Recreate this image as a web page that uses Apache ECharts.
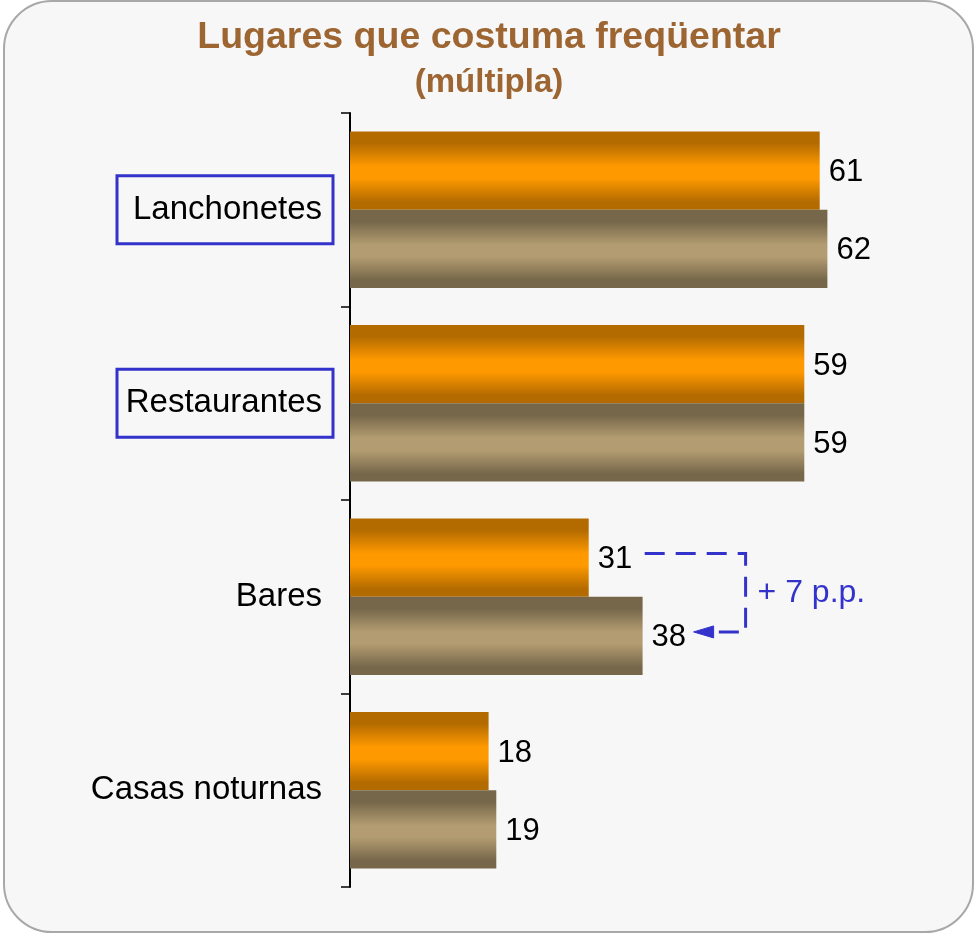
<!DOCTYPE html>
<html>
<head>
<meta charset="utf-8">
<script src="https://cdn.jsdelivr.net/npm/echarts@6/dist/echarts.min.js"></script>
<style>
html,body{margin:0;padding:0;background:#ffffff;}
#chart{width:978px;height:936px;}
</style>
</head>
<body>
<div id="chart"></div>
<script>
var categories = ['Lanchonetes', 'Restaurantes', 'Bares', 'Casas noturnas'];
var seriesA = [61, 59, 31, 18];
var seriesB = [62, 59, 38, 19];
var highlighted = ['Lanchonetes', 'Restaurantes'];
var deltaCategory = 'Bares';
var deltaText = '+ 7 p.p.';
var titleText = 'Lugares que costuma freqüentar';
var subtitleText = '(múltipla)';

var FONT = '"Liberation Sans", Arial, Helvetica, sans-serif';
var BLUE = '#3333cc';

function vgrad(dark, light) {
  return new echarts.graphic.LinearGradient(0, 0, 0, 1, [
    {offset: 0, color: dark},
    {offset: 0.15, color: dark},
    {offset: 0.45, color: light},
    {offset: 0.6, color: light},
    {offset: 0.9, color: dark},
    {offset: 1, color: dark}
  ]);
}

var chart = echarts.init(document.getElementById('chart'), null, {renderer: 'canvas'});

var option = {
  backgroundColor: '#ffffff',
  animation: false,
  title: {
    text: titleText,
    subtext: subtitleText,
    left: 'center',
    top: 14,
    itemGap: 9,
    textStyle: {fontFamily: FONT, fontSize: 37.5, fontWeight: 'bold', color: '#9c6531'},
    subtextStyle: {fontFamily: FONT, fontSize: 33, fontWeight: 'bold', color: '#9c6531'}
  },
  grid: {left: 350, top: 113, width: 616, height: 774, containLabel: false},
  xAxis: {
    type: 'value', min: 0, max: 80, show: false
  },
  yAxis: {
    type: 'category',
    data: categories,
    inverse: true,
    axisLine: {show: true, lineStyle: {color: '#000', width: 2}},
    axisTick: {show: true, length: 9, lineStyle: {color: '#000', width: 1.5}},
    axisLabel: {fontFamily: FONT, fontSize: 33, color: '#000', margin: 28},
    splitLine: {show: false}
  },
  series: [
    {
      name: 'A', type: 'bar', data: seriesA,
      barGap: '0%', barCategoryGap: '19%',
      itemStyle: {color: vgrad('#b36b00', '#ff9900')},
      label: {show: true, position: 'right', distance: 9, fontFamily: FONT, fontSize: 31, color: '#000', offset: [0, 2]}
    },
    {
      name: 'B', type: 'bar', data: seriesB,
      barGap: '0%', barCategoryGap: '19%',
      itemStyle: {color: vgrad('#76674a', '#b39c71')},
      label: {show: true, position: 'right', distance: 9, fontFamily: FONT, fontSize: 31, color: '#000', offset: [0, 2]}
    }
  ]
};
chart.setOption(option);

// annotations positioned from the chart's own scales
var elements = [];
elements.push({
  type: 'rect', z: -10, silent: true,
  shape: {x: 4, y: 1, width: 969, height: 931, r: 48},
  style: {fill: '#f7f7f7', stroke: '#a8a8a8', lineWidth: 2}
});
var axisX = chart.convertToPixel({xAxisIndex: 0}, 0);
highlighted.forEach(function (c) {
  var cy = chart.convertToPixel({yAxisIndex: 0}, c);
  elements.push({
    type: 'rect', silent: true, z: 10,
    shape: {x: axisX - 233, y: cy - 34, width: 216, height: 68},
    style: {fill: 'none', stroke: BLUE, lineWidth: 3}
  });
});
var idx = categories.indexOf(deltaCategory);
var cyB = chart.convertToPixel({yAxisIndex: 0}, deltaCategory);
var bandH = 774 / categories.length;
var barH = bandH * 0.81 / 2;
var yTop = cyB - barH / 2 - 4;
var yBot = cyB + barH / 2 - 4;
var xA = chart.convertToPixel({xAxisIndex: 0}, seriesA[idx]);
var xB = chart.convertToPixel({xAxisIndex: 0}, seriesB[idx]);
var xStart = xA + 56;
var xRight = xB + 103;
var xTip = xB + 51;
elements.push({
  type: 'polyline', silent: true, z: 10,
  shape: {points: [[xStart, yTop], [xRight, yTop], [xRight, yBot], [xTip + 20, yBot]]},
  style: {fill: 'none', stroke: BLUE, lineWidth: 3, lineDash: [20, 11]}
});
elements.push({
  type: 'polygon', silent: true, z: 10,
  shape: {points: [[xTip, yBot], [xTip + 20, yBot - 6], [xTip + 20, yBot + 6]]},
  style: {fill: BLUE, stroke: BLUE, lineWidth: 1}
});
elements.push({
  type: 'text', silent: true, z: 10,
  x: xRight + 12, y: (yTop + yBot) / 2,
  style: {text: deltaText, fill: BLUE, font: '32px ' + FONT, textVerticalAlign: 'middle', verticalAlign: 'middle'}
});
chart.setOption({graphic: {elements: elements}});
</script>
</body>
</html>
